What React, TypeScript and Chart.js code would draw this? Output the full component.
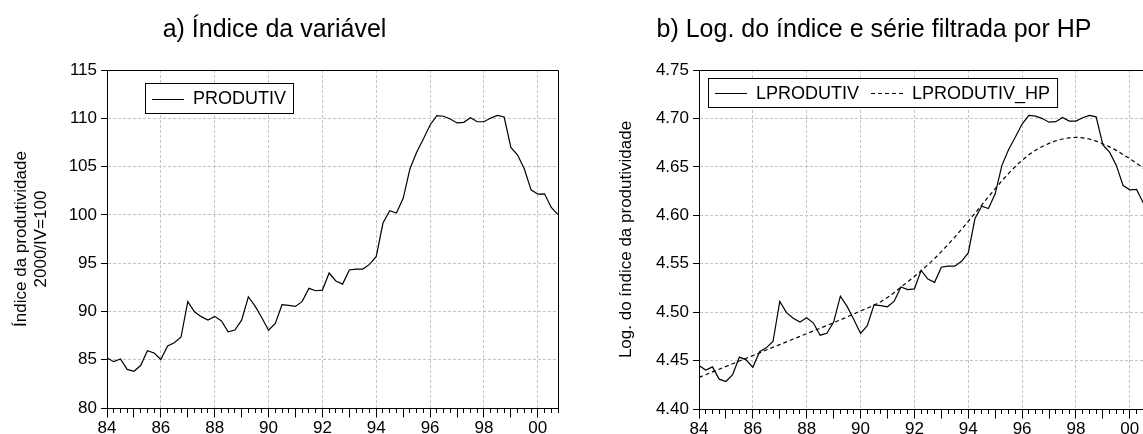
import { useEffect, useRef } from 'react';
import { Chart, registerables } from 'chart.js';

Chart.register(...registerables);

const FONT = "'Liberation Sans', Arial, Helvetica, sans-serif";
const GRID_GRAY = '#c4c4c4';

// Quarterly observations, 1984Q1 to 2000Q4
const firstYear = 1984;
const labeledYears = [1984, 1986, 1988, 1990, 1992, 1994, 1996, 1998, 2000];

// Productivity index (2000/IV = 100)
const produtiv = [
  85.2, 84.8, 85.07, 84.0, 83.8, 84.4, 85.93, 85.69,
  85.03, 86.42, 86.76, 87.35, 91.02, 89.97, 89.46, 89.11,
  89.49, 89.01, 87.9, 88.08, 89.1, 91.52, 90.55, 89.34,
  88.06, 88.76, 90.69, 90.62, 90.52, 91.04, 92.39, 92.14,
  92.21, 93.98, 93.15, 92.83, 94.29, 94.39, 94.39, 94.87,
  95.69, 99.15, 100.43, 100.18, 101.71, 104.75, 106.48, 107.86,
  109.31, 110.28, 110.21, 109.93, 109.52, 109.58, 110.06, 109.64,
  109.64, 110.02, 110.3, 110.13, 106.98, 106.19, 104.74, 102.59,
  102.14, 102.18, 100.76, 100.03,
];

// Hodrick-Prescott trend of the log index
const lprodutivHp = [
  4.4326, 4.4354, 4.4383, 4.4411, 4.4439, 4.4467, 4.4496, 4.4524,
  4.4552, 4.458, 4.4609, 4.4637, 4.4665, 4.4693, 4.4722, 4.475,
  4.4778, 4.4806, 4.4834, 4.4863, 4.4891, 4.492, 4.495, 4.4981,
  4.5013, 4.504, 4.5072, 4.5108, 4.5152, 4.5203, 4.5258, 4.5312,
  4.5368, 4.5427, 4.5488, 4.5554, 4.5624, 4.5698, 4.5775, 4.5855,
  4.5937, 4.6021, 4.6106, 4.6191, 4.6275, 4.6356, 4.6433, 4.6504,
  4.6568, 4.6625, 4.6672, 4.671, 4.6742, 4.6769, 4.6788, 4.68,
  4.6805, 4.68, 4.6788, 4.6766, 4.6738, 4.6706, 4.667, 4.6627,
  4.6584, 4.6537, 4.6487, 4.6434,
];

// Log of the index
const lprodutiv = produtiv.map((v) => Math.log(v));

const quarterTimes = produtiv.map((_, i) => firstYear + i / 4);
const lastTime = quarterTimes[quarterTimes.length - 1];

type Series = { label: string; values: number[]; dash: number[] };

type PanelSpec = {
  series: Series[];
  yMin: number;
  yMax: number;
  yStep: number;
  yDecimals: number;
  yTitle: string | string[];
  yTitleOffset: number;
  width: number;
  height: number;
  padding: { top: number; right: number; bottom: number; left: number };
  yAxisWidth: number;
  xAxisHeight: number;
  legendBox: { dx: number; dy: number; h: number };
};

const align = (p: number) => Math.round(p - 0.5) + 0.5;

const isLabeledYear = (v: number) =>
  labeledYears.some((y) => Math.abs(y - v) < 1e-6);

// Box around the plotting area plus the longer yearly tick marks
const framePlugin = {
  id: 'frame',
  afterDraw(chart: any) {
    const { ctx, chartArea } = chart;
    const { left, right, top, bottom } = chartArea;
    const xs = chart.scales.x;
    ctx.save();
    ctx.strokeStyle = '#000';
    ctx.lineWidth = 1;
    ctx.setLineDash([]);
    ctx.beginPath();
    ctx.moveTo(align(left), align(top));
    ctx.lineTo(align(right), align(top));
    ctx.lineTo(align(right), align(bottom));
    for (let yr = Math.ceil(xs.min); yr <= xs.max; yr++) {
      const px = align(xs.getPixelForValue(yr));
      ctx.moveTo(px, align(bottom));
      ctx.lineTo(px, align(bottom) + 9);
    }
    ctx.stroke();
    ctx.restore();
  },
};

// Legend drawn inside the plotting area, inside a framed box
const insideLegendPlugin = {
  id: 'insideLegend',
  afterDatasetsDraw(chart: any, _args: any, opts: any) {
    const { ctx, chartArea } = chart;
    const datasets = chart.data.datasets;
    const fontSize = 18;
    ctx.save();
    ctx.font = `${fontSize}px ${FONT}`;
    const padL = 7;
    const sample = 32;
    const gap = 9;
    const itemGap = 12;
    const padR = 7;
    let w = padL;
    datasets.forEach((d: any, i: number) => {
      w += sample + gap + ctx.measureText(d.label).width;
      if (i < datasets.length - 1) w += itemGap;
    });
    w += padR;
    const x0 = Math.round(chartArea.left + opts.dx);
    const y0 = Math.round(chartArea.top + opts.dy);
    const h = opts.h;
    ctx.fillStyle = '#fff';
    ctx.fillRect(x0, y0, w, h);
    ctx.strokeStyle = '#000';
    ctx.lineWidth = 1;
    ctx.strokeRect(x0 + 0.5, y0 + 0.5, w, h);
    const cy = y0 + h / 2 + 0.5;
    let x = x0 + padL;
    datasets.forEach((d: any) => {
      ctx.beginPath();
      ctx.setLineDash(d.borderDash || []);
      ctx.lineWidth = 1;
      ctx.moveTo(x, Math.round(cy) + 0.5);
      ctx.lineTo(x + sample, Math.round(cy) + 0.5);
      ctx.stroke();
      ctx.setLineDash([]);
      x += sample + gap;
      ctx.fillStyle = '#000';
      ctx.textBaseline = 'middle';
      ctx.textAlign = 'left';
      ctx.fillText(d.label, x, cy + 1);
      x += ctx.measureText(d.label).width + itemGap;
    });
    ctx.restore();
  },
};

function buildConfig(spec: PanelSpec): any {
  const tickFont = { family: FONT, size: 17 };
  return {
    type: 'line',
    data: {
      datasets: spec.series.map((s) => ({
        label: s.label,
        data: quarterTimes.map((x, i) => ({ x, y: s.values[i] })),
        borderColor: '#000',
        borderWidth: 1.2,
        borderDash: s.dash,
        pointRadius: 0,
        tension: 0,
        fill: false,
      })),
    },
    options: {
      responsive: false,
      animation: false,
      devicePixelRatio: 1,
      events: [],
      layout: { padding: spec.padding },
      plugins: {
        legend: { display: false },
        tooltip: { enabled: false },
        title: { display: false },
        insideLegend: spec.legendBox,
      },
      scales: {
        x: {
          type: 'linear',
          min: firstYear,
          max: lastTime,
          afterFit: (s: any) => {
            s.height = spec.xAxisHeight;
          },
          ticks: {
            stepSize: 0.25,
            autoSkip: false,
            maxRotation: 0,
            minRotation: 0,
            padding: 5,
            color: '#000',
            font: tickFont,
            callback: (v: number) =>
              isLabeledYear(v) ? String(Math.round(v) % 100).padStart(2, '0') : '',
          },
          grid: {
            color: (c: any) => {
              const v = c.tick ? c.tick.value : NaN;
              return isLabeledYear(v) && v > firstYear ? GRID_GRAY : 'rgba(0,0,0,0)';
            },
            tickColor: '#000',
            tickLength: 5,
            lineWidth: 1,
          },
          border: { color: '#000', width: 1, dash: [3, 2] },
        },
        y: {
          type: 'linear',
          min: spec.yMin,
          max: spec.yMax,
          afterFit: (s: any) => {
            s.width = spec.yAxisWidth;
          },
          ticks: {
            stepSize: spec.yStep,
            padding: 4,
            color: '#000',
            font: tickFont,
            callback: (v: number) => Number(v).toFixed(spec.yDecimals),
          },
          grid: {
            color: (c: any) => {
              const v = c.tick ? c.tick.value : NaN;
              return v > spec.yMin + 1e-9 && v < spec.yMax - 1e-9 ? GRID_GRAY : 'rgba(0,0,0,0)';
            },
            tickColor: '#000',
            tickLength: 6,
            lineWidth: 1,
          },
          border: { color: '#000', width: 1, dash: [3, 2] },
          title: {
            display: true,
            text: spec.yTitle,
            color: '#000',
            font: { family: FONT, size: 17, lineHeight: 1.2 },
            padding: { top: spec.yTitleOffset, bottom: 0 },
          },
        },
      },
    },
    plugins: [framePlugin, insideLegendPlugin],
  };
}

const leftSpec: PanelSpec = {
  series: [{ label: 'PRODUTIV', values: produtiv, dash: [] }],
  yMin: 80,
  yMax: 115,
  yStep: 5,
  yDecimals: 0,
  yTitle: ['Índice da produtividade', '2000/IV=100'],
  yTitleOffset: 11,
  width: 575,
  height: 434,
  padding: { top: 70, right: 17, bottom: 0, left: 0 },
  yAxisWidth: 107,
  xAxisHeight: 26,
  legendBox: { dx: 38, dy: 13, h: 30 },
};

const rightSpec: PanelSpec = {
  series: [
    { label: 'LPRODUTIV', values: lprodutiv, dash: [] },
    { label: 'LPRODUTIV_HP', values: lprodutivHp, dash: [4, 3] },
  ],
  yMin: 4.4,
  yMax: 4.75,
  yStep: 0.05,
  yDecimals: 2,
  yTitle: 'Log. do índice da produtividade',
  yTitleOffset: 36,
  width: 600,
  height: 434,
  padding: { top: 70, right: 30, bottom: 0, left: 0 },
  yAxisWidth: 119,
  xAxisHeight: 25,
  legendBox: { dx: 9, dy: 8, h: 29 },
};

function Panel({ spec, left }: { spec: PanelSpec; left: number }) {
  const ref = useRef<HTMLCanvasElement | null>(null);
  useEffect(() => {
    if (!ref.current) return;
    const chart = new Chart(ref.current, buildConfig(spec));
    return () => chart.destroy();
  }, [spec]);
  return (
    <canvas
      ref={ref}
      width={spec.width}
      height={spec.height}
      style={{ position: 'absolute', left, top: 0, width: spec.width, height: spec.height }}
    />
  );
}

const titleStyle: any = {
  position: 'absolute',
  top: 14,
  fontFamily: FONT,
  fontSize: 25,
  lineHeight: '28px',
  color: '#000',
  textAlign: 'center',
  whiteSpace: 'nowrap',
};

export default function App() {
  return (
    <div
      style={{
        position: 'fixed',
        left: 0,
        top: 0,
        width: 1143,
        height: 434,
        overflow: 'hidden',
        background: '#fff',
      }}
    >
      <Panel spec={leftSpec} left={0} />
      <Panel spec={rightSpec} left={580} />
      <div style={{ ...titleStyle, left: 0, width: 549 }}>a) Índice da variável</div>
      <div style={{ ...titleStyle, left: 624, width: 500 }}>b) Log. do índice e série filtrada por HP</div>
    </div>
  );
}
